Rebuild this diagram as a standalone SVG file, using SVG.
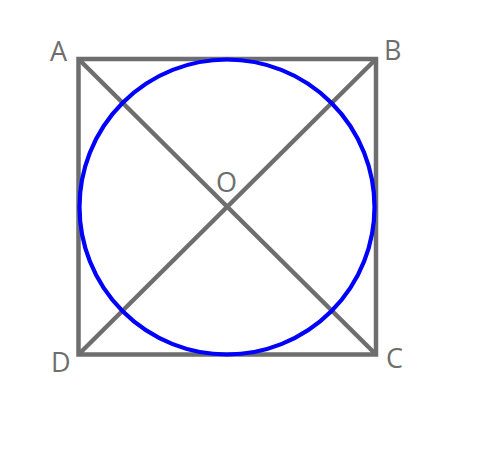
<svg xmlns="http://www.w3.org/2000/svg" width="500" height="450" viewBox="0 0 500 450">
<style>
.ln{stroke:#6e6e6e;stroke-width:4.5;fill:none}
.lb{font-family:"Open Sans","Noto Sans",sans-serif;font-size:27px;fill:#6e6e6e}
</style>
<rect width="500" height="450" fill="#fff"/>
<g id="connectors">
<rect class="ln" x="78.5" y="59" width="297.5" height="295.5"/>
<line class="ln" x1="78.5" y1="59" x2="376" y2="354.5"/>
<line class="ln" x1="376" y1="59" x2="78.5" y2="354.5"/>
</g>
<g id="circle"><circle cx="227" cy="207" r="147.5" fill="none" stroke="#0000ff" stroke-width="4.2"/></g>
<g id="A"><text class="lb" x="50" y="61">A</text></g>
<g id="B"><text class="lb" x="384" y="60">B</text></g>
<g id="C"><text class="lb" x="386" y="368">C</text></g>
<g id="D"><text class="lb" x="51" y="372">D</text></g>
<g id="O"><text class="lb" x="216" y="192">O</text></g>
</svg>
